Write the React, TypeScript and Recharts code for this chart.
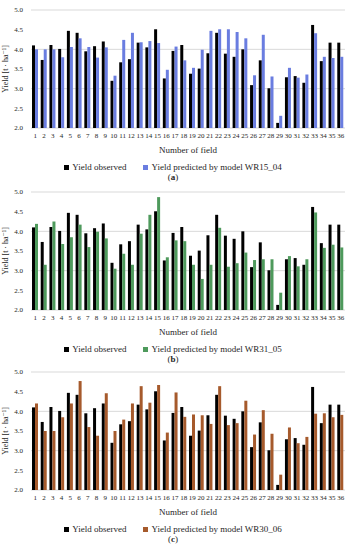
import { BarChart, Bar, XAxis, YAxis, CartesianGrid, Legend } from "recharts";

const FIELDS = [
  "1", "2", "3", "4", "5", "6", "7", "8", "9", "10", "11", "12",
  "13", "14", "15", "16", "17", "18", "19", "20", "21", "22", "23", "24",
  "25", "26", "27", "28", "29", "30", "31", "32", "33", "34", "35", "36",
];

// same observed yields in all three panels
const OBSERVED = [
  4.1, 3.73, 4.11, 4.01, 4.47, 4.42, 3.95, 4.08, 4.2, 3.2, 3.67, 3.75,
  4.17, 4.05, 4.51, 3.26, 3.96, 4.11, 3.38, 3.51, 3.9, 4.42, 3.89, 3.81,
  4.0, 3.09, 3.72, 3.01, 2.13, 3.29, 3.32, 3.15, 4.62, 3.7, 4.17, 4.17,
];

const PRED_WR15_04 = [
  4.0, 4.0, 4.0, 3.8, 4.06, 4.28, 4.06, 3.79, 4.05, 3.33, 4.24, 4.42,
  4.18, 4.21, 4.16, 3.48, 4.07, 3.72, 3.53, 3.99, 4.47, 4.51, 4.51, 4.44,
  4.28, 3.34, 4.37, 3.31, 2.31, 3.53, 3.28, 3.36, 4.41, 3.81, 3.78, 3.81,
];

const PRED_WR31_05 = [
  4.19, 3.15, 4.25, 3.68, 3.85, 4.17, 3.6, 3.99, 3.82, 3.05, 3.43, 3.15,
  3.94, 4.42, 4.87, 3.34, 3.77, 3.75, 3.15, 2.79, 3.15, 4.09, 3.1, 3.19,
  3.46, 3.27, 3.29, 3.29, 2.44, 3.37, 3.11, 3.29, 4.48, 3.58, 3.66, 3.59,
];

const PRED_WR30_06 = [
  4.2, 3.5, 3.5, 3.85, 4.2, 4.77, 3.6, 3.38, 4.46, 3.5, 3.79, 4.2,
  4.64, 4.22, 4.67, 3.46, 4.48, 3.86, 3.92, 3.9, 3.68, 4.64, 3.65, 3.7,
  4.27, 3.41, 4.03, 3.43, 2.39, 3.59, 3.19, 3.35, 3.94, 3.95, 3.85, 3.91,
];

const Y_TICKS = [2.0, 2.5, 3.0, 3.5, 4.0, 4.5, 5.0];

const FONT = "'Liberation Serif', 'DejaVu Serif', serif";
const TEXT = "#262626";

function Panel({ top, predicted, model, color, tag }: {
  top: number; predicted: number[]; model: string; color: string; tag: string;
}) {
  const data = FIELDS.map((f, i) => ({ field: f, observed: OBSERVED[i], predicted: predicted[i] }));

  const legend = () => (
    <div style={{ display: "flex", justifyContent: "center", gap: 17, fontFamily: FONT, fontSize: 9, color: TEXT }}>
      <span style={{ display: "flex", alignItems: "center" }}>
        <span style={{ width: 5, height: 5, background: "#000", marginRight: 3 }} />
        Yield observed
      </span>
      <span style={{ display: "flex", alignItems: "center" }}>
        <span style={{ width: 5, height: 5, background: color, marginRight: 3 }} />
        Yield predicted by model {model}
      </span>
    </div>
  );

  return (
    <div style={{ position: "absolute", left: 0, top, width: 350, height: 182 }}>
      <BarChart width={350} height={176} data={data} margin={{ top: 10, right: 5, bottom: 4, left: 1 }}
        barGap={0} barSize={3}>
        <CartesianGrid vertical={false} stroke="#d9d9d9" />
        <XAxis dataKey="field" interval={0} tickLine={false} axisLine={false} tickSize={0} tickMargin={5}
          height={26} tick={{ fontSize: 7, fill: TEXT, fontFamily: FONT }}
          label={{ value: "Number of field", position: "insideBottom", offset: 1, fontSize: 9, fill: TEXT, fontFamily: FONT }} />
        <YAxis width={30} domain={[2, 5]} ticks={Y_TICKS} tickFormatter={(v: number) => v.toFixed(1)}
          tickLine={false} axisLine={false} tickSize={0} tickMargin={8}
          tick={{ fontSize: 7, fill: TEXT, fontFamily: FONT }}
          label={{ value: "Yield [t · ha⁻¹]", angle: -90, position: "insideLeft", offset: 4, fontSize: 8,
            fill: TEXT, fontFamily: FONT, style: { textAnchor: "middle" } }} />
        <Legend content={legend} wrapperStyle={{ paddingTop: 8 }} />
        <Bar dataKey="observed" fill="#000000" isAnimationActive={false} />
        <Bar dataKey="predicted" fill={color} isAnimationActive={false} />
      </BarChart>
      <div style={{ position: "absolute", top: 172, left: 0, width: 346, textAlign: "center",
        fontFamily: FONT, fontSize: 9, color: TEXT }}>
        (<b>{tag}</b>)
      </div>
    </div>
  );
}

export default function App() {
  return (
    <div style={{ position: "absolute", left: 0, top: 0, width: 350, height: 550, background: "#fff" }}>
      <Panel top={0} predicted={PRED_WR15_04} model="WR15_04" color="#6a7de0" tag="a" />
      <Panel top={182} predicted={PRED_WR31_05} model="WR31_05" color="#4e9a5c" tag="b" />
      <Panel top={362} predicted={PRED_WR30_06} model="WR30_06" color="#a65a2c" tag="c" />
    </div>
  );
}
